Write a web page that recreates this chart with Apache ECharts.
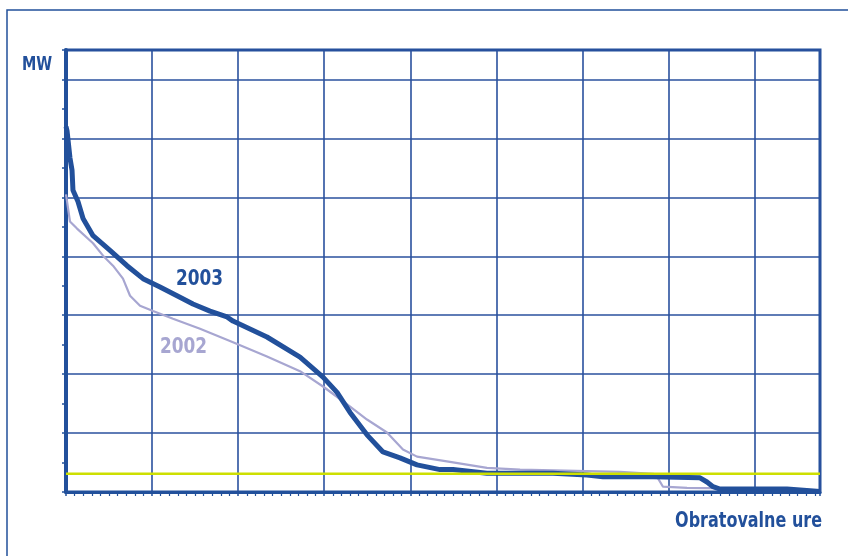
<!DOCTYPE html>
<html><head><meta charset="utf-8">
<script src="https://cdn.jsdelivr.net/npm/echarts@6/dist/echarts.min.js"></script>
<style>html,body{margin:0;padding:0;background:#fff}#c{width:848px;height:556px}</style>
</head><body><div id="c"></div>
<script>
// Load duration curves (hours of operation vs MW)
const hours2003 = [0,12,23,46,70,81,139,198,314,511,709,895,1092,1290,1475,1673,1871,1940,2335,2719,2986,3149,3300,3497,3683,3880,4078,4345,4496,4891,5658,6053,6239,6820,7366,7447,7517,7598,8377,8760];
const mw2003    = [620,613,616,567,546,512,493,464,435,410,384,362,348,333,319,307,297,290,263,229,195,169,135,97,68,58,46,38,38,32,32,29,26,26,24,17,9,5,5,1];
const hours2002 = [0,12,46,128,314,430,546,662,744,860,1011,1243,1557,1940,2335,2719,2986,3218,3497,3729,3915,4078,4461,4891,5275,6436,6820,6866,6936,7215,8377,8760];
const mw2002    = [505,493,459,447,422,401,384,362,333,316,307,294,277,254,230,205,179,154,123,101,72,60,51,41,38,34,31,26,9,7,5,1];
const limitHours = [0,8760];
const limitMW = [31,31];
const yearLabels = ['2003','2002'];
const axisNames = ['MW','Obratovalne ure'];

const zip = (a,b)=>a.map((v,i)=>[v,b[i]]);
const BLUE='#22509b', GRIDC='#2a519e', LAV='#a7a6d1', YEL='#cddf00';
const FONT='"DejaVu Sans",sans-serif';

function label(text, x, y, size, color, sx, align){
  return {type:'text',x:x,y:y,scaleX:sx,silent:true,z:100,
    style:{text:text,fill:color,font:'bold '+size+'px '+FONT,align:align||'left',verticalAlign:'top'}};
}

const chart = echarts.init(document.getElementById('c'), null, {renderer:'canvas'});
chart.setOption({
  animation:false,
  grid:{left:66,right:28,top:50,bottom:64,show:true,borderColor:BLUE,borderWidth:3,backgroundColor:'transparent'},
  xAxis:{type:'value',min:0,max:8760,interval:1000,
    axisLine:{show:true,onZero:false,lineStyle:{color:BLUE,width:3}},
    axisTick:{show:true,inside:false,length:4,lineStyle:{color:BLUE,width:1.5}},
    minorTick:{show:true,splitNumber:10,length:4,lineStyle:{color:BLUE,width:1.2}},
    axisLabel:{show:false},
    splitLine:{show:true,lineStyle:{color:GRIDC,width:1.6}}},
  yAxis:{type:'value',min:0,max:750,interval:100,
    axisLine:{show:true,onZero:false,lineStyle:{color:BLUE,width:4}},
    axisTick:{show:true,inside:false,length:4,lineStyle:{color:BLUE,width:1.5}},
    minorTick:{show:true,splitNumber:2,length:4,lineStyle:{color:BLUE,width:1.5}},
    axisLabel:{show:false},
    splitLine:{show:true,lineStyle:{color:GRIDC,width:1.6}}},
  series:[
    {name:yearLabels[1],type:'line',data:zip(hours2002,mw2002),showSymbol:false,
     lineStyle:{color:LAV,width:2.2},z:3},
    {name:yearLabels[0],type:'line',data:zip(hours2003,mw2003),showSymbol:false,
     lineStyle:{color:BLUE,width:5},z:4},
    {name:'limit',type:'line',data:zip(limitHours,limitMW),showSymbol:false,
     lineStyle:{color:YEL,width:2.5},z:5}
  ],
  graphic:[
    {type:'rect',shape:{x:7,y:10,width:1000,height:1000},style:{fill:'none',stroke:BLUE,lineWidth:1.5},silent:true},
    label(axisNames[0], 22, 55, 20, BLUE, 0.72, 'left'),
    label(axisNames[1], 822, 511, 20.5, BLUE, 0.78, 'right'),
    label(yearLabels[0], 176, 268, 22, BLUE, 0.77, 'left'),
    label(yearLabels[1], 160, 336, 22, LAV, 0.77, 'left')
  ]
});
</script></body></html>
